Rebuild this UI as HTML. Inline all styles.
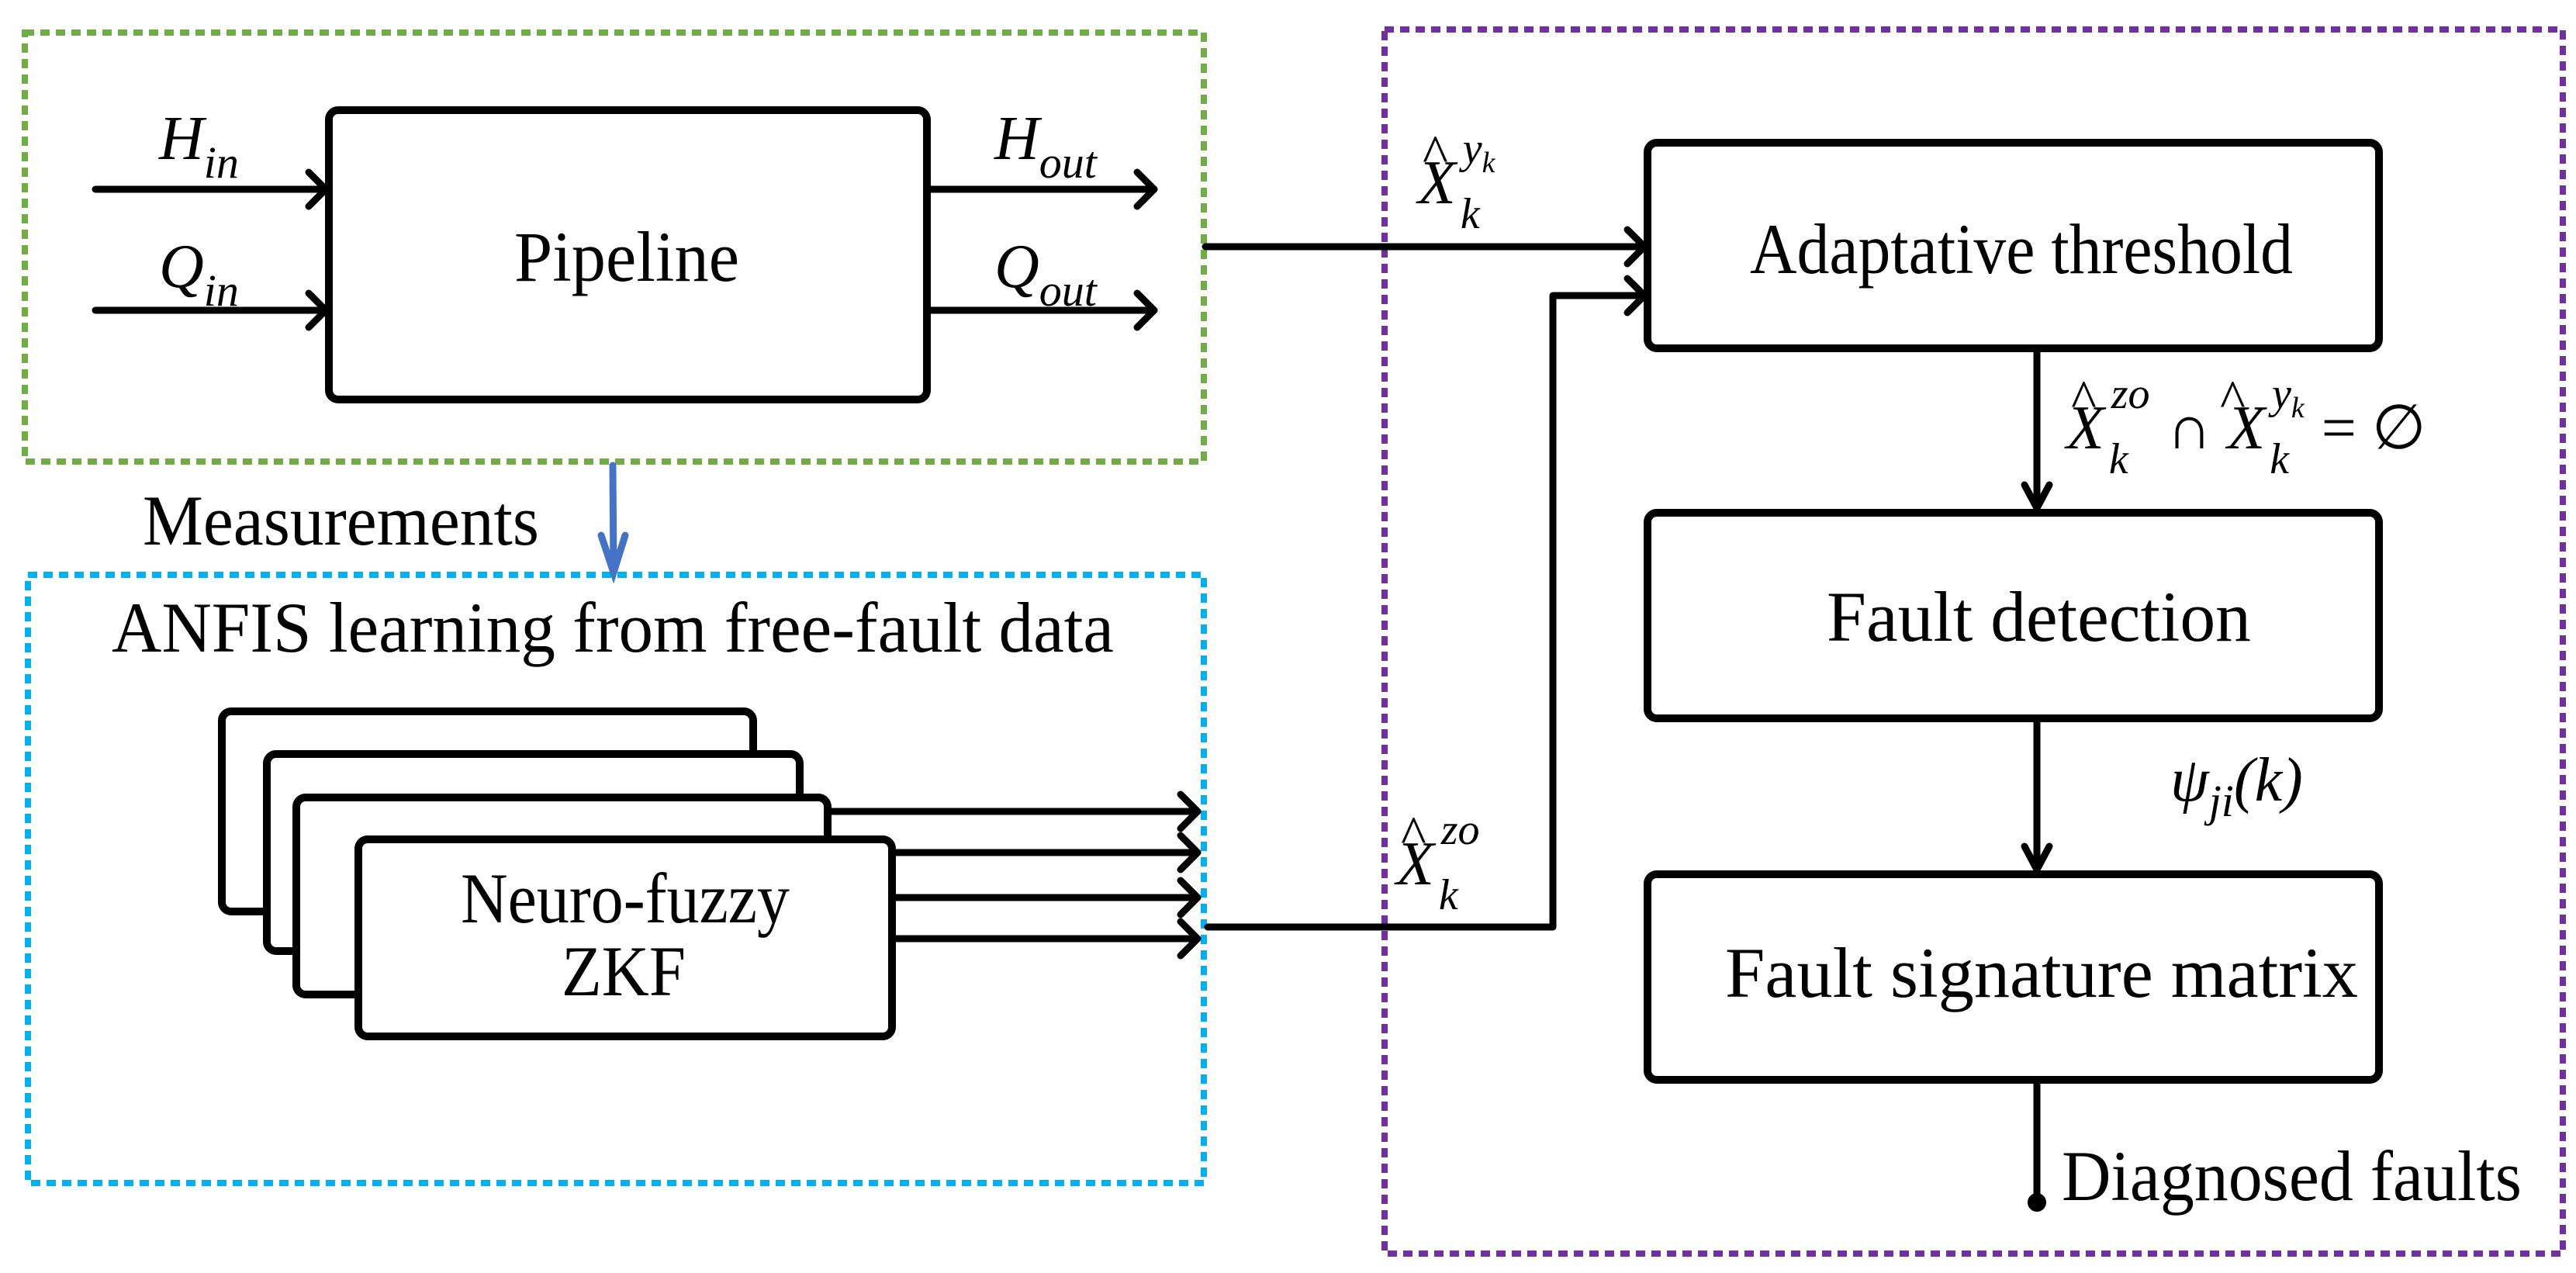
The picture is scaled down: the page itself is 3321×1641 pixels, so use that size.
<!DOCTYPE html>
<html><head><meta charset="utf-8"><style>
html,body{margin:0;padding:0;background:#fff;}
svg{display:block;}
text{font-family:"Liberation Serif",serif;fill:#000;}
</style></head><body>
<svg width="3321" height="1641" viewBox="0 0 3321 1641" xmlns="http://www.w3.org/2000/svg">
<g fill="none" stroke-width="8">
<rect x="32" y="42" width="1520" height="553" stroke="#70ad47" stroke-dasharray="12 8"/>
<rect x="36" y="741" width="1516" height="784" stroke="#00b0f0" stroke-dasharray="12 8"/>
<rect x="1785" y="38" width="1519" height="1578" stroke="#7030a0" stroke-dasharray="12 8"/>
</g>
<g fill="#fff" stroke="#000" stroke-width="10">
<rect x="424" y="142" width="771" height="373" rx="12"/>
<rect x="286" y="917" width="685" height="258" rx="12"/>
<rect x="344" y="972" width="687" height="254" rx="12"/>
<rect x="382" y="1028" width="685" height="254" rx="12"/>
<rect x="462" y="1082" width="688" height="254" rx="12"/>
<rect x="2124" y="184" width="943" height="265" rx="12"/>
<rect x="2124" y="661" width="943" height="265" rx="12"/>
<rect x="2124" y="1127" width="943" height="265" rx="12"/>
</g>
<g fill="none" stroke="#000" stroke-width="9" stroke-linecap="round" stroke-linejoin="round">
<line x1="123" y1="244" x2="420" y2="244"/><polyline points="398,222 420,244 398,266"/>
<line x1="123" y1="400" x2="420" y2="400"/><polyline points="398,378 420,400 398,422"/>
<line x1="1195" y1="244" x2="1488" y2="244"/><polyline points="1466,222 1488,244 1466,266"/>
<line x1="1195" y1="400" x2="1488" y2="400"/><polyline points="1466,378 1488,400 1466,422"/>
<line x1="1067" y1="1046" x2="1544" y2="1046"/><polyline points="1522,1024 1544,1046 1522,1068"/>
<line x1="1150" y1="1099" x2="1544" y2="1099"/><polyline points="1522,1077 1544,1099 1522,1121"/>
<line x1="1150" y1="1157" x2="1544" y2="1157"/><polyline points="1522,1135 1544,1157 1522,1179"/>
<line x1="1150" y1="1210" x2="1544" y2="1210"/><polyline points="1522,1188 1544,1210 1522,1232"/>
<line x1="1554" y1="318" x2="2120" y2="318"/><polyline points="2098,296 2120,318 2098,340"/>
<polyline points="1557,1195 2002,1195 2002,381 2120,381"/><polyline points="2098,359 2120,381 2098,403"/>
<line x1="2626" y1="449" x2="2626" y2="655"/><polyline points="2610,625 2626,655 2642,625"/>
<line x1="2626" y1="926" x2="2626" y2="1121"/><polyline points="2610,1091 2626,1121 2642,1091"/>
<line x1="2626" y1="1392" x2="2626" y2="1548"/>
</g>
<circle cx="2626" cy="1550" r="12" fill="#000"/>
<g stroke="#4472c4" stroke-width="9" fill="none" stroke-linecap="round">
<line x1="790" y1="600" x2="791" y2="738"/>
<polyline points="775,690 791,738 806,690"/>
</g>
<g font-size="92">
<text x="663" y="362" textLength="290" lengthAdjust="spacingAndGlyphs">Pipeline</text>
<text x="184" y="702" textLength="511" lengthAdjust="spacingAndGlyphs">Measurements</text>
<text x="144" y="840" textLength="1292" lengthAdjust="spacingAndGlyphs">ANFIS learning from free-fault data</text>
<text x="594" y="1189" textLength="424" lengthAdjust="spacingAndGlyphs">Neuro-fuzzy</text>
<text x="724" y="1283" textLength="160" lengthAdjust="spacingAndGlyphs">ZKF</text>
<text x="2256" y="352" textLength="700" lengthAdjust="spacingAndGlyphs">Adaptative threshold</text>
<text x="2355" y="826" textLength="547" lengthAdjust="spacingAndGlyphs">Fault detection</text>
<text x="2224" y="1285" textLength="816" lengthAdjust="spacingAndGlyphs">Fault signature matrix</text>
<text x="2658" y="1547" textLength="593" lengthAdjust="spacingAndGlyphs">Diagnosed faults</text>
</g>
<g font-size="80" font-style="italic">
<text x="205" y="205">H<tspan font-size="58" dy="24">in</tspan></text>
<text x="205" y="370">Q<tspan font-size="58" dy="24">in</tspan></text>
<text x="1282" y="205">H<tspan font-size="58" dy="24">out</tspan></text>
<text x="1282" y="370">Q<tspan font-size="58" dy="24">out</tspan></text>
<text x="1828" y="262">X<tspan font-size="56" dx="6" dy="32">k</tspan><tspan font-size="56" dx="-22" dy="-84">y</tspan><tspan font-size="38" dy="12">k</tspan></text>
<text x="1834" y="222" font-size="70" font-style="normal">^</text>
<text x="1800" y="1140">X<tspan font-size="56" dx="6" dy="32">k</tspan><tspan font-size="56" dx="-22" dy="-84">zo</tspan></text>
<text x="1806" y="1100" font-size="70" font-style="normal">^</text>
<text x="2664" y="578">X<tspan font-size="56" dx="6" dy="32">k</tspan><tspan font-size="56" dx="-22" dy="-84">zo</tspan><tspan font-style="normal" dx="22" dy="52">∩ </tspan>X<tspan font-size="56" dx="6" dy="32">k</tspan><tspan font-size="56" dx="-22" dy="-84">y</tspan><tspan font-size="38" dy="12">k</tspan><tspan font-style="normal" dx="22" dy="40">= ∅</tspan></text>
<text x="2670" y="538" font-size="70" font-style="normal">^</text>
<text x="2862" y="538" font-size="70" font-style="normal">^</text>
<text x="2798" y="1032">ψ<tspan font-size="58" dy="20">ji</tspan><tspan dy="-20">(k)</tspan></text>
</g>
</svg>
</body></html>
